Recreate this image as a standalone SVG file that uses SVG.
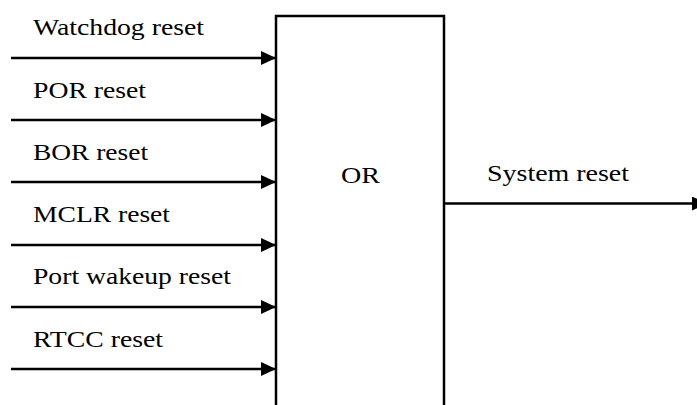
<svg xmlns="http://www.w3.org/2000/svg" width="697" height="405" viewBox="0 0 697 405">
<defs>
<style>
text{font-family:"Liberation Serif","Times New Roman",serif;font-size:24px;fill:#000}
.ln{stroke:#000;stroke-width:2.5;fill:none}
.ah{fill:#000}
</style>
<marker id="arr" markerUnits="userSpaceOnUse" markerWidth="16" markerHeight="14" refX="15" refY="7" orient="auto">
<path d="M0,0 L15,7 L0,14 Z" class="ah"/>
</marker>
</defs>
<rect width="697" height="405" fill="#fff"/>
<g id="or-gate">
<path class="ln" d="M276,410 V16 H444 V410"/>
<text x="341" y="183" textLength="39" lengthAdjust="spacingAndGlyphs">OR</text>
</g>
<g id="connectors">
<line class="ln" x1="11" y1="58" x2="276" y2="58" marker-end="url(#arr)"/>
<line class="ln" x1="11" y1="120" x2="276" y2="120" marker-end="url(#arr)"/>
<line class="ln" x1="11" y1="182" x2="276" y2="182" marker-end="url(#arr)"/>
<line class="ln" x1="11" y1="245" x2="276" y2="245" marker-end="url(#arr)"/>
<line class="ln" x1="11" y1="307" x2="276" y2="307" marker-end="url(#arr)"/>
<line class="ln" x1="11" y1="369" x2="276" y2="369" marker-end="url(#arr)"/>
<line class="ln" x1="444" y1="203.5" x2="707" y2="203.5" marker-end="url(#arr)"/>
</g>
<g id="labels">
<text x="33" y="35" textLength="171" lengthAdjust="spacingAndGlyphs">Watchdog reset</text>
<text x="33" y="98" textLength="113" lengthAdjust="spacingAndGlyphs">POR reset</text>
<text x="33" y="160" textLength="115" lengthAdjust="spacingAndGlyphs">BOR reset</text>
<text x="33" y="222" textLength="137" lengthAdjust="spacingAndGlyphs">MCLR reset</text>
<text x="33" y="284" textLength="198" lengthAdjust="spacingAndGlyphs">Port wakeup reset</text>
<text x="33" y="347" textLength="130" lengthAdjust="spacingAndGlyphs">RTCC reset</text>
<text x="487" y="181" textLength="142" lengthAdjust="spacingAndGlyphs">System reset</text>
</g>
</svg>
